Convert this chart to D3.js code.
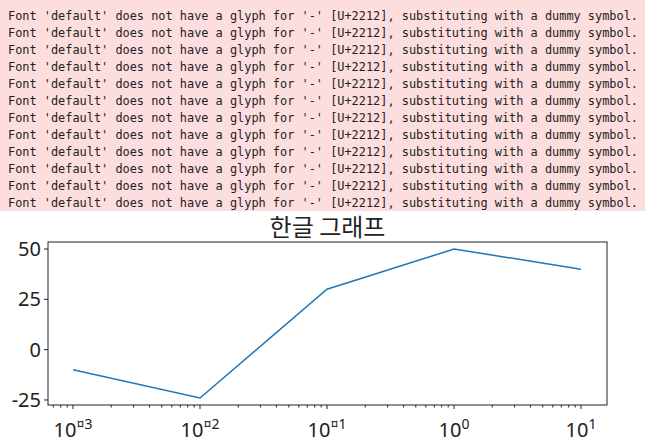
<!DOCTYPE html><html><head><meta charset="utf-8">
<script src="https://cdn.jsdelivr.net/npm/d3@7"></script>
<style>body{margin:0;background:#fff}</style></head><body><svg id="c" width="645" height="444"></svg>
<script>
const xs=[0.001,0.01,0.1,1,10];
const ys=[-10,-24,30,50,40];
const yTicks=[-25,0,25,50];
const xTickExp=["¤3","¤2","¤1","0","1"];
const warn="Font 'default' does not have a glyph for '-' [U+2212], substituting with a dummy symbol.";
const svg=d3.select("#c");
svg.append("rect").attr("x",0).attr("y",0).attr("width",645).attr("height",211).attr("fill","#fddede");
for(let i=0;i<12;i++)svg.append("text").attr("x",8).attr("y",20+i*17).attr("font-family","DejaVu Sans Mono").attr("font-size",11.9).attr("fill","#222").attr("xml:space","preserve").text(warn);
const L=48,R=607,T=242,B=405;
const x=d3.scaleLog().domain([0.001/Math.pow(10,25/127),10*Math.pow(10,26/127)]).range([L,R]);
const y=d3.scaleLinear().domain([-27.5,53.5]).range([B,T]);
svg.append("path").datum(xs.map((v,i)=>[v,ys[i]])).attr("fill","none").attr("stroke","#1f77b4").attr("stroke-width",1.5).attr("d",d3.line().x(d=>x(d[0])).y(d=>y(d[1])));
svg.append("rect").attr("x",L).attr("y",T).attr("width",R-L).attr("height",B-T).attr("fill","none").attr("stroke","#222").attr("stroke-width",1);
yTicks.forEach(t=>{svg.append("line").attr("x1",L-4).attr("x2",L).attr("y1",y(t)).attr("y2",y(t)).attr("stroke","#222");
svg.append("text").attr("x",L-7).attr("y",y(t)+7).attr("text-anchor","end").attr("font-family","Noto Sans").attr("font-size",20).attr("fill","#222").text(String(t));});
const [d0,d1]=x.domain();
for(let e=-4;e<=1;e++)for(let m=2;m<10;m++){const v=m*Math.pow(10,e);if(v>d0&&v<d1)svg.append("line").attr("x1",x(v)).attr("x2",x(v)).attr("y1",B).attr("y2",B+2.5).attr("stroke","#222");}
xs.forEach((v,i)=>{svg.append("line").attr("x1",x(v)).attr("x2",x(v)).attr("y1",B).attr("y2",B+4).attr("stroke","#222");
const t=svg.append("text").attr("x",x(v)).attr("y",B+32).attr("text-anchor","middle").attr("font-family","Noto Sans").attr("font-size",20).attr("fill","#222");
t.append("tspan").text("10");t.append("tspan").attr("dy",-8).attr("font-size",14).text(xTickExp[i]);});
svg.append("text").attr("x",(L+R)/2).attr("y",236).attr("text-anchor","middle").attr("font-family","Noto Sans CJK KR").attr("font-size",24).attr("fill","#222").text("한글 그래프");
</script></body></html>
